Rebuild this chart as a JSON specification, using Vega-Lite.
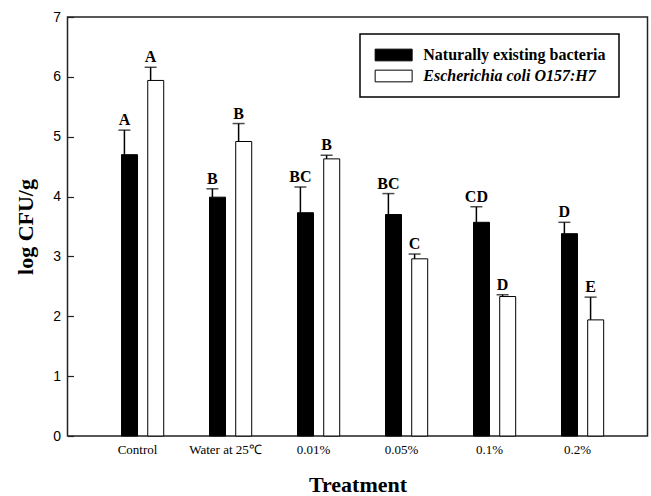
{
  "$schema": "https://vega.github.io/schema/vega-lite/v6.json",
  "width": 580,
  "height": 419,
  "autosize": {"type": "none"},
  "padding": {"left": 67.5, "top": 17, "right": 3.5, "bottom": 60},
  "background": "white",
  "config": {
    "view": {"stroke": "#222", "strokeWidth": 1.5},
    "font": "Liberation Serif"
  },
  "data": {
    "values": [
      {"treatment": "Control", "organism": "Naturally existing bacteria", "mean": 4.70, "upper": 5.11, "letter": "A"},
      {"treatment": "Control", "organism": "Escherichia coli O157:H7", "mean": 5.94, "upper": 6.16, "letter": "A"},
      {"treatment": "Water at 25℃", "organism": "Naturally existing bacteria", "mean": 3.99, "upper": 4.13, "letter": "B"},
      {"treatment": "Water at 25℃", "organism": "Escherichia coli O157:H7", "mean": 4.92, "upper": 5.22, "letter": "B"},
      {"treatment": "0.01%", "organism": "Naturally existing bacteria", "mean": 3.73, "upper": 4.16, "letter": "BC"},
      {"treatment": "0.01%", "organism": "Escherichia coli O157:H7", "mean": 4.63, "upper": 4.69, "letter": "B"},
      {"treatment": "0.05%", "organism": "Naturally existing bacteria", "mean": 3.70, "upper": 4.05, "letter": "BC"},
      {"treatment": "0.05%", "organism": "Escherichia coli O157:H7", "mean": 2.96, "upper": 3.04, "letter": "C"},
      {"treatment": "0.1%", "organism": "Naturally existing bacteria", "mean": 3.57, "upper": 3.83, "letter": "CD"},
      {"treatment": "0.1%", "organism": "Escherichia coli O157:H7", "mean": 2.33, "upper": 2.36, "letter": "D"},
      {"treatment": "0.2%", "organism": "Naturally existing bacteria", "mean": 3.38, "upper": 3.57, "letter": "D"},
      {"treatment": "0.2%", "organism": "Escherichia coli O157:H7", "mean": 1.94, "upper": 2.32, "letter": "E"}
    ]
  },
  "encoding": {
    "x": {
      "field": "treatment",
      "type": "nominal",
      "sort": null,
      "scale": {"paddingInner": 0.4045, "paddingOuter": 0.498},
      "axis": {
        "title": "Treatment",
        "titleFont": "Liberation Serif",
        "titleFontSize": 22,
        "titleFontWeight": "bold",
        "titleColor": "black",
        "titlePadding": 18,
        "labelFont": "Liberation Serif",
        "labelFontSize": 13,
        "labelColor": "black",
        "labelAngle": 0,
        "labelPadding": 7,
        "ticks": false,
        "tickSize": 0,
        "domain": false
      }
    },
    "xOffset": {
      "field": "organism",
      "type": "nominal",
      "scale": {"domain": ["Naturally existing bacteria", "Escherichia coli O157:H7"], "paddingInner": 0, "paddingOuter": 0}
    }
  },
  "layer": [
    {
      "mark": {"type": "bar", "stroke": "black", "strokeWidth": 1, "width": {"band": 0.61}},
      "encoding": {
        "y": {
          "field": "mean",
          "type": "quantitative",
          "scale": {"domain": [0, 7], "nice": false},
          "axis": {
            "title": "log CFU/g",
            "titleFont": "Liberation Serif",
            "titleFontSize": 22,
            "titleFontWeight": "bold",
            "titleColor": "black",
            "titlePadding": 15,
            "values": [0, 1, 2, 3, 4, 5, 6, 7],
            "format": "d",
            "labelFont": "Liberation Sans",
            "labelFontSize": 14,
            "labelColor": "black",
            "offset": -6,
            "tickSize": 6,
            "tickColor": "#222",
            "tickWidth": 1.2,
            "labelPadding": 7,
            "domain": false,
            "grid": false
          }
        },
        "fill": {
          "field": "organism",
          "type": "nominal",
          "scale": {"domain": ["Naturally existing bacteria", "Escherichia coli O157:H7"], "range": ["black", "white"]},
          "legend": {
            "title": null,
            "orient": "none",
            "legendX": 292.5,
            "legendY": 17,
            "padding": 13,
            "fillColor": "white",
            "strokeColor": "black",
            "symbolType": "M-1,-1H5.32V1H-1Z",
            "symbolSize": 137,
            "symbolStrokeColor": "black",
            "symbolStrokeWidth": 1,
            "labelOffset": 34.3,
            "labelFont": "Liberation Serif",
            "labelFontSize": 16,
            "labelFontWeight": "bold",
            "labelColor": "black",
            "labelLimit": 400,
            "rowPadding": 5,
            "encode": {
              "legend": {"update": {"strokeWidth": {"value": 1.5}}},
              "labels": {"update": {"fontStyle": {"signal": "datum.value === 'Escherichia coli O157:H7' ? 'italic' : 'normal'"}}}
            }
          }
        }
      }
    },
    {
      "mark": {"type": "rule", "color": "black", "strokeWidth": 1.5},
      "encoding": {
        "y": {"field": "mean", "type": "quantitative"},
        "y2": {"field": "upper"}
      }
    },
    {
      "mark": {"type": "tick", "color": "black", "thickness": 1.5, "size": 12, "orient": "horizontal"},
      "encoding": {
        "y": {"field": "upper", "type": "quantitative"}
      }
    },
    {
      "mark": {"type": "text", "font": "Liberation Serif", "fontSize": 16, "fontWeight": "bold", "color": "black", "baseline": "alphabetic", "dy": -5},
      "encoding": {
        "y": {"field": "upper", "type": "quantitative"},
        "text": {"field": "letter"}
      }
    }
  ]
}
